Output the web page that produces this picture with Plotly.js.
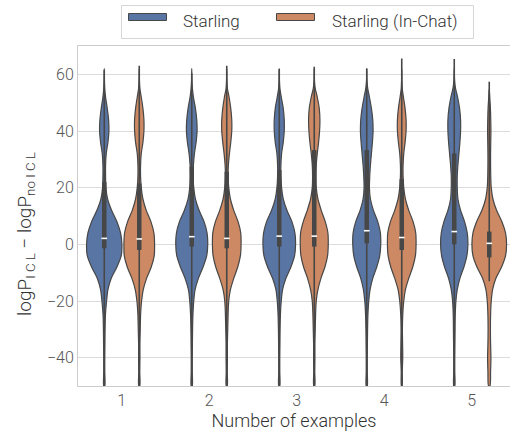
<!DOCTYPE html>
<html><head><meta charset="utf-8">
<script src="https://cdn.plot.ly/plotly-3.0.1.min.js"></script>
<style>html,body{margin:0;padding:0;background:#fff}#chart{width:510px;height:435px}</style>
</head><body><div id="chart"></div>
<script>
const categories = ["1", "2", "3", "4", "5"];
const seriesNames = ["Starling", "Starling (In-Chat)"];

// y levels at which the violin half-widths were read (top to bottom)
const levels = [62,58,55,52,48,44,40,36,32,28,24,20,16,12,8,4,0,-4,-8,-12,-16,-20,-25,-30,-35,-40,-45,-50];

// half-widths (relative units), one array per violin
const starlingWidth1 = [0,0.5,1.5,4,9,13,14,11,6,4,4,5,10,22,38,49,53,51,38,21,11,7,3.5,2.5,2,1.5,1.5,1.5];
const starlingWidth2 = [0,0.5,2,5,11,15,16,13,8,5,4,6,11,22,37,46,48,45,34,20,10,6,3.5,2.5,2,1.5,1.5,1.5];
const starlingWidth3 = [0,0.5,2,6,12,15,15,12,7,5,5,7,12,23,38,47,49,46,35,20,10,6,3.5,2.5,2,1.5,1.5,1.5];
const starlingWidth4 = [0,0.5,3,8,14,18,19,17,14,11,9,8,11,20,33,41,42,39,30,18,10,6,3.5,2.5,2,1.5,1.5,1.5];
const starlingWidth5 = [0,1,4,10,16,19,19,17,14,11,9,9,11,19,31,39,41,38,29,17,9,5,3,2.5,2,1.5,1.5,1.5];
const inChatWidth1 = [0,0.5,2,6,11,14,14,11,6,4,4,6,11,21,35,44,46,45,36,22,12,7,4,3,2,2,1.5,1.5];
const inChatWidth2 = [0,0.5,2,7,12,15,15,12,8,5,4,6,11,21,34,42,43,41,33,21,11,6,4,3,2,2,1.5,1.5];
const inChatWidth3 = [0,0.5,3,9,15,17,16,13,9,6,5,6,11,21,33,41,42,40,32,20,11,6,4,3,2,2,1.5,1.5];
const inChatWidth4 = [0,0.5,1.5,5,10,13,13,10,6,4,4,6,11,21,34,42,43,41,33,21,11,6,3,2,2.5,3,1.5,1];
const inChatWidth5 = [0,0,0,1.5,3.5,4.5,5,4.5,4,4,4.5,6,11,22,38,49,52,49,37,20,10,6,4,3.5,4,5,4,2];

// inner box statistics
const starlingWhiskerTop = [61.5, 60.4, 61.9, 62.1, 65.4];
const starlingQ3 = [22, 27.4, 26.2, 33.3, 32.1];
const starlingMedian = [2.1, 2.7, 2.9, 4.8, 4.5];
const starlingQ1 = [-1.4, -0.8, -0.8, 0.35, 0];
const starlingWhiskerBottom = [-50, -50, -50, -50, -50];
const inChatWhiskerTop = [63, 63, 62.7, 65.6, 57.4];
const inChatQ3 = [21.5, 25.6, 33.3, 23, 4.5];
const inChatMedian = [1.9, 2.1, 2.9, 2.4, 0.35];
const inChatQ1 = [-2, -1.4, -0.8, -2, -4.6];
const inChatWhiskerBottom = [-50, -50, -50, -50, -13];

const starlingWidths = [starlingWidth1, starlingWidth2, starlingWidth3, starlingWidth4, starlingWidth5];
const inChatWidths = [inChatWidth1, inChatWidth2, inChatWidth3, inChatWidth4, inChatWidth5];

const fillColors = ["#5975a4", "#cc8963"];
const edge = "#474747";
const widthScale = 1 / 262.5;
const dodge = 0.2;

const traces = [];
function addViolin(ci, si, widths, wTop, q3, med, q1, wBot) {
  const c = ci + (si === 0 ? -dodge : dodge);
  // skip leading zero-width levels except the last one (the tip)
  let start = 0;
  while (start + 1 < levels.length && widths[start + 1] === 0) start++;
  const xs = [], ys = [];
  for (let i = start; i < levels.length; i++) { xs.push(c + widths[i] * widthScale); ys.push(levels[i]); }
  for (let i = levels.length - 1; i >= start; i--) { xs.push(c - widths[i] * widthScale); ys.push(levels[i]); }
  traces.push({type: "scatter", mode: "lines", x: xs, y: ys, fill: "toself", fillcolor: fillColors[si],
    line: {color: edge, width: 1.2, shape: "spline", smoothing: 0.8}, hoverinfo: "skip", showlegend: false});
  traces.push({type: "scatter", mode: "lines", x: [c, c], y: [wBot, wTop],
    line: {color: edge, width: 1.6}, hoverinfo: "skip", showlegend: false});
  traces.push({type: "scatter", mode: "lines", x: [c, c], y: [q1, q3],
    line: {color: edge, width: 4.5}, hoverinfo: "skip", showlegend: false});
  traces.push({type: "scatter", mode: "markers", x: [c], y: [med],
    marker: {symbol: "line-ew", size: 4, line: {color: "#ffffff", width: 1.6}}, hoverinfo: "skip", showlegend: false});
}
for (let i = 0; i < categories.length; i++) {
  addViolin(i, 0, starlingWidths[i], starlingWhiskerTop[i], starlingQ3[i], starlingMedian[i], starlingQ1[i], starlingWhiskerBottom[i]);
  addViolin(i, 1, inChatWidths[i], inChatWhiskerTop[i], inChatQ3[i], inChatMedian[i], inChatQ1[i], inChatWhiskerBottom[i]);
}

// pixel -> paper helpers for the legend
const L = 78, R = 510, T = 46, B = 386;
const px = v => (v - L) / (R - L);
const py = v => (B - v) / (B - T);

const fontFam = "Roboto, 'Open Sans', sans-serif";
const shapes = [
  {type: "rect", xref: "paper", yref: "paper", x0: px(121.5), x1: px(473.5), y0: py(5.5), y1: py(38.5),
   line: {color: "#d6d6d6", width: 1}, fillcolor: "#ffffff", layer: "above"},
  {type: "rect", xref: "paper", yref: "paper", x0: px(128.5), x1: px(166.5), y0: py(13.5), y1: py(20.5),
   line: {color: edge, width: 1}, fillcolor: fillColors[0], layer: "above"},
  {type: "rect", xref: "paper", yref: "paper", x0: px(276.5), x1: px(314.5), y0: py(13.5), y1: py(20.5),
   line: {color: edge, width: 1}, fillcolor: fillColors[1], layer: "above"}
];
const annotations = [
  {xref: "paper", yref: "paper", x: px(181), y: py(21), xanchor: "left", yanchor: "middle", showarrow: false,
   text: seriesNames[0], font: {family: fontFam, size: 17, weight: 300, color: "#333333"}},
  {xref: "paper", yref: "paper", x: px(330), y: py(21), xanchor: "left", yanchor: "middle", showarrow: false,
   text: seriesNames[1], font: {family: fontFam, size: 17, weight: 300, color: "#333333"}},
  {xref: "paper", yref: "paper", x: px(25), y: py(234), xanchor: "center", yanchor: "middle", showarrow: false,
   textangle: -90, text: "logP<sub>I C L</sub> − logP<sub>no I C L</sub>",
   font: {family: fontFam, size: 19, weight: 300, color: "#333333"}}
];

const layout = {
  width: 510, height: 435,
  margin: {l: L, r: 510 - R, t: T, b: 435 - B, pad: 0},
  paper_bgcolor: "#ffffff", plot_bgcolor: "#ffffff",
  font: {family: fontFam, size: 16, weight: 300, color: "#333333"},
  showlegend: false,
  xaxis: {range: [-0.5, -0.5 + (R - L) / 87.5], tickvals: [0, 1, 2, 3, 4], ticktext: categories,
    showgrid: false, zeroline: false, showline: true, linecolor: "#cccccc", linewidth: 1, mirror: true,
    ticks: "", tickfont: {family: fontFam, size: 16, weight: 300, color: "#555555"},
    title: {text: "Number of examples", font: {family: fontFam, size: 18, weight: 300, color: "#333333"}, standoff: 4}},
  yaxis: {range: [-50, 70], tickvals: [-40, -20, 0, 20, 40, 60],
    showgrid: true, gridcolor: "#dcdcdc", gridwidth: 1, zeroline: false, showline: true, linecolor: "#cccccc", linewidth: 1,
    ticks: "", tickfont: {family: fontFam, size: 16, weight: 300, color: "#555555"}},
  shapes: shapes,
  annotations: annotations
};

Plotly.newPlot("chart", traces, layout, {displayModeBar: false, staticPlot: true});
</script>
</body></html>
